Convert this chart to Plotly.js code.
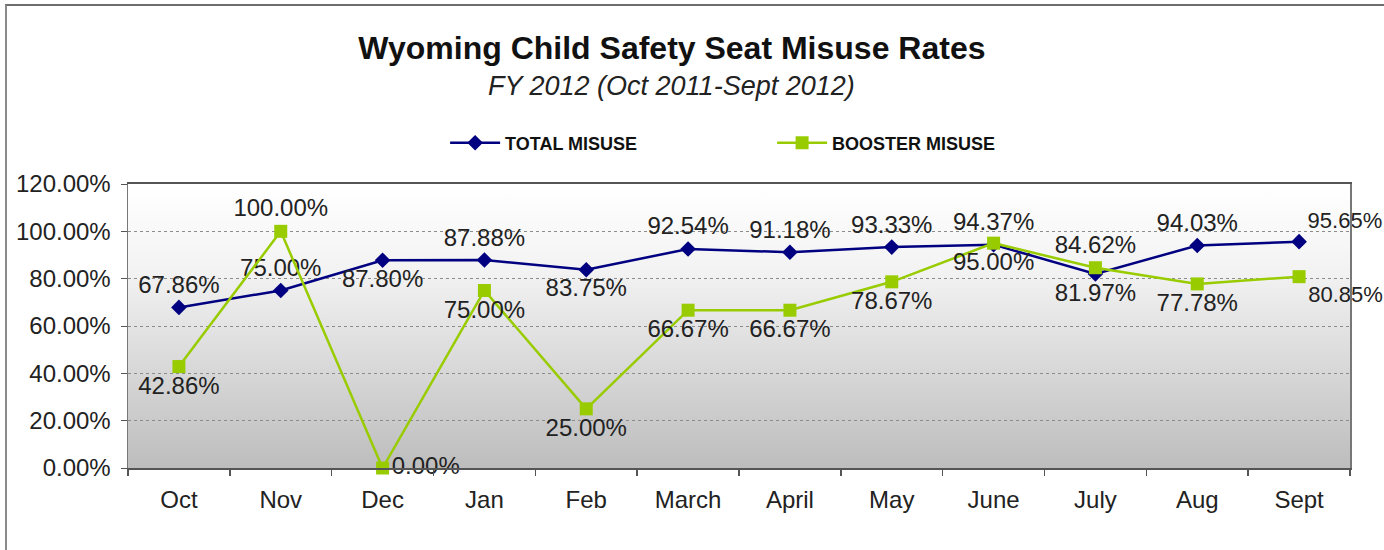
<!DOCTYPE html>
<html>
<head>
<meta charset="utf-8">
<script src="https://cdn.plot.ly/plotly-3.0.1.min.js"></script>
<style>
  body { margin: 0; overflow: hidden; background: #fff; }
  #plotDiv { width: 1384px; height: 550px; }
  #frame { position: absolute; left: 5px; top: 4px; width: 1420px; height: 600px;
           border-top: 2px solid #6e6e6e; border-left: 2px solid #8a8a8a; pointer-events: none; }
</style>
</head>
<body>
<div id="plotDiv"></div>
<div id="frame"></div>
<script>
var months = ['Oct', 'Nov', 'Dec', 'Jan', 'Feb', 'March', 'April', 'May', 'June', 'July', 'Aug', 'Sept'];
var totalMisuse = [67.86, 75.00, 87.80, 87.88, 83.75, 92.54, 91.18, 93.33, 94.37, 81.97, 94.03, 95.65];
var boosterMisuse = [42.86, 100.00, 0.00, 75.00, 25.00, 66.67, 66.67, 78.67, 95.00, 84.62, 77.78, 80.85];
var yTicks = [0, 20, 40, 60, 80, 100, 120];

// where Excel put the data labels
var totalPos = ['top center', 'top center', 'bottom center', 'top center', 'bottom center', 'top center',
                'top center', 'top center', 'top center', 'bottom center', 'top center', 'top right'];
var boosterPos = ['bottom center', 'top center', 'middle right', 'bottom center', 'bottom center', 'bottom center',
                  'bottom center', 'bottom center', 'bottom center', 'top center', 'bottom center', 'bottom right'];

var FONT = 'Liberation Sans, Arial, sans-serif';
// last label sits past the plot edge, keep it a touch smaller so it fits
var labelSizes = months.map(function (m, i) { return i === months.length - 1 ? 22 : 24; });
var labelFont = { family: FONT, size: labelSizes, color: '#222' };

var total = {
  type: 'scatter',
  mode: 'lines+markers+text',
  name: 'TOTAL MISUSE',
  x: months,
  y: totalMisuse,
  text: totalMisuse.map(function (v) { return v.toFixed(2) + '%'; }),
  textposition: totalPos,
  textfont: labelFont,
  cliponaxis: false,
  line: { color: '#000080', width: 2.5 },
  marker: { symbol: 'diamond', size: 12, color: '#000080' }
};

var booster = {
  type: 'scatter',
  mode: 'lines+markers+text',
  name: 'BOOSTER MISUSE',
  x: months,
  y: boosterMisuse,
  text: boosterMisuse.map(function (v) { return v.toFixed(2) + '%'; }),
  textposition: boosterPos,
  textfont: labelFont,
  cliponaxis: false,
  line: { color: '#99cc00', width: 2.5 },
  marker: { symbol: 'square', size: 13, color: '#99cc00' }
};

var gradSvg = '<svg xmlns="http://www.w3.org/2000/svg" width="10" height="100" preserveAspectRatio="none">' +
  '<defs><linearGradient id="g" x1="0" y1="0" x2="0" y2="1">' +
  '<stop offset="0" stop-color="#ffffff"/><stop offset="0.3" stop-color="#f3f3f3"/>' +
  '<stop offset="1" stop-color="#bdbdbd"/></linearGradient></defs>' +
  '<rect width="10" height="100" fill="url(#g)"/></svg>';

var layout = {
  width: 1384,
  height: 550,
  margin: { l: 128, r: 34, t: 184, b: 82, pad: 0 },
  paper_bgcolor: '#ffffff',
  plot_bgcolor: 'rgba(0,0,0,0)',
  font: { family: FONT, color: '#222' },
  title: {
    text: '<b>Wyoming Child Safety Seat Misuse Rates</b>',
    font: { family: FONT, size: 32, color: '#111' },
    x: 0.4855, xanchor: 'center',
    y: 0.913, yanchor: 'middle'
  },
  annotations: [{
    text: '<i>FY 2012 (Oct 2011-Sept 2012)</i>',
    xref: 'paper', yref: 'paper',
    x: 0.445, y: 1.345, xanchor: 'center', yanchor: 'middle',
    showarrow: false,
    font: { family: FONT, size: 27, color: '#222' }
  }],
  showlegend: true,
  legend: {
    orientation: 'h',
    x: 0.2595, xanchor: 'left',
    y: 1.144, yanchor: 'middle',
    itemwidth: 50,
    entrywidth: 262,
    entrywidthmode: 'pixels',
    font: { family: FONT, size: 18, color: '#111', weight: 'bold' },
    bgcolor: 'rgba(0,0,0,0)'
  },
  images: [{
    source: 'data:image/svg+xml;charset=utf-8,' + encodeURIComponent(gradSvg),
    xref: 'paper', yref: 'paper',
    x: 0, y: 1, sizex: 1, sizey: 1,
    xanchor: 'left', yanchor: 'top',
    sizing: 'stretch', layer: 'below'
  }],
  xaxis: {
    type: 'category',
    range: [-0.5, months.length - 0.5],
    showgrid: false,
    showline: true, linecolor: '#555', linewidth: 2,
    mirror: true,
    ticks: 'outside', tickson: 'boundaries', ticklen: 6, tickcolor: '#555', tickwidth: 1.5,
    ticklabelstandoff: 9,
    tickfont: { family: FONT, size: 24, color: '#222' },
    zeroline: false
  },
  yaxis: {
    range: [0, 120],
    tickvals: yTicks,
    ticktext: yTicks.map(function (v) { return v.toFixed(2) + '%'; }),
    showgrid: true, gridcolor: '#8c8c8c', griddash: 'dot', gridwidth: 1,
    showline: true, linecolor: '#777', linewidth: 1.5,
    mirror: true,
    ticks: 'outside', ticklen: 6, tickcolor: '#555',
    ticklabelstandoff: 5,
    tickfont: { family: FONT, size: 24, color: '#222' },
    zeroline: false
  }
};

Plotly.newPlot('plotDiv', [total, booster], layout, { displayModeBar: false, staticPlot: true });
</script>
</body>
</html>
